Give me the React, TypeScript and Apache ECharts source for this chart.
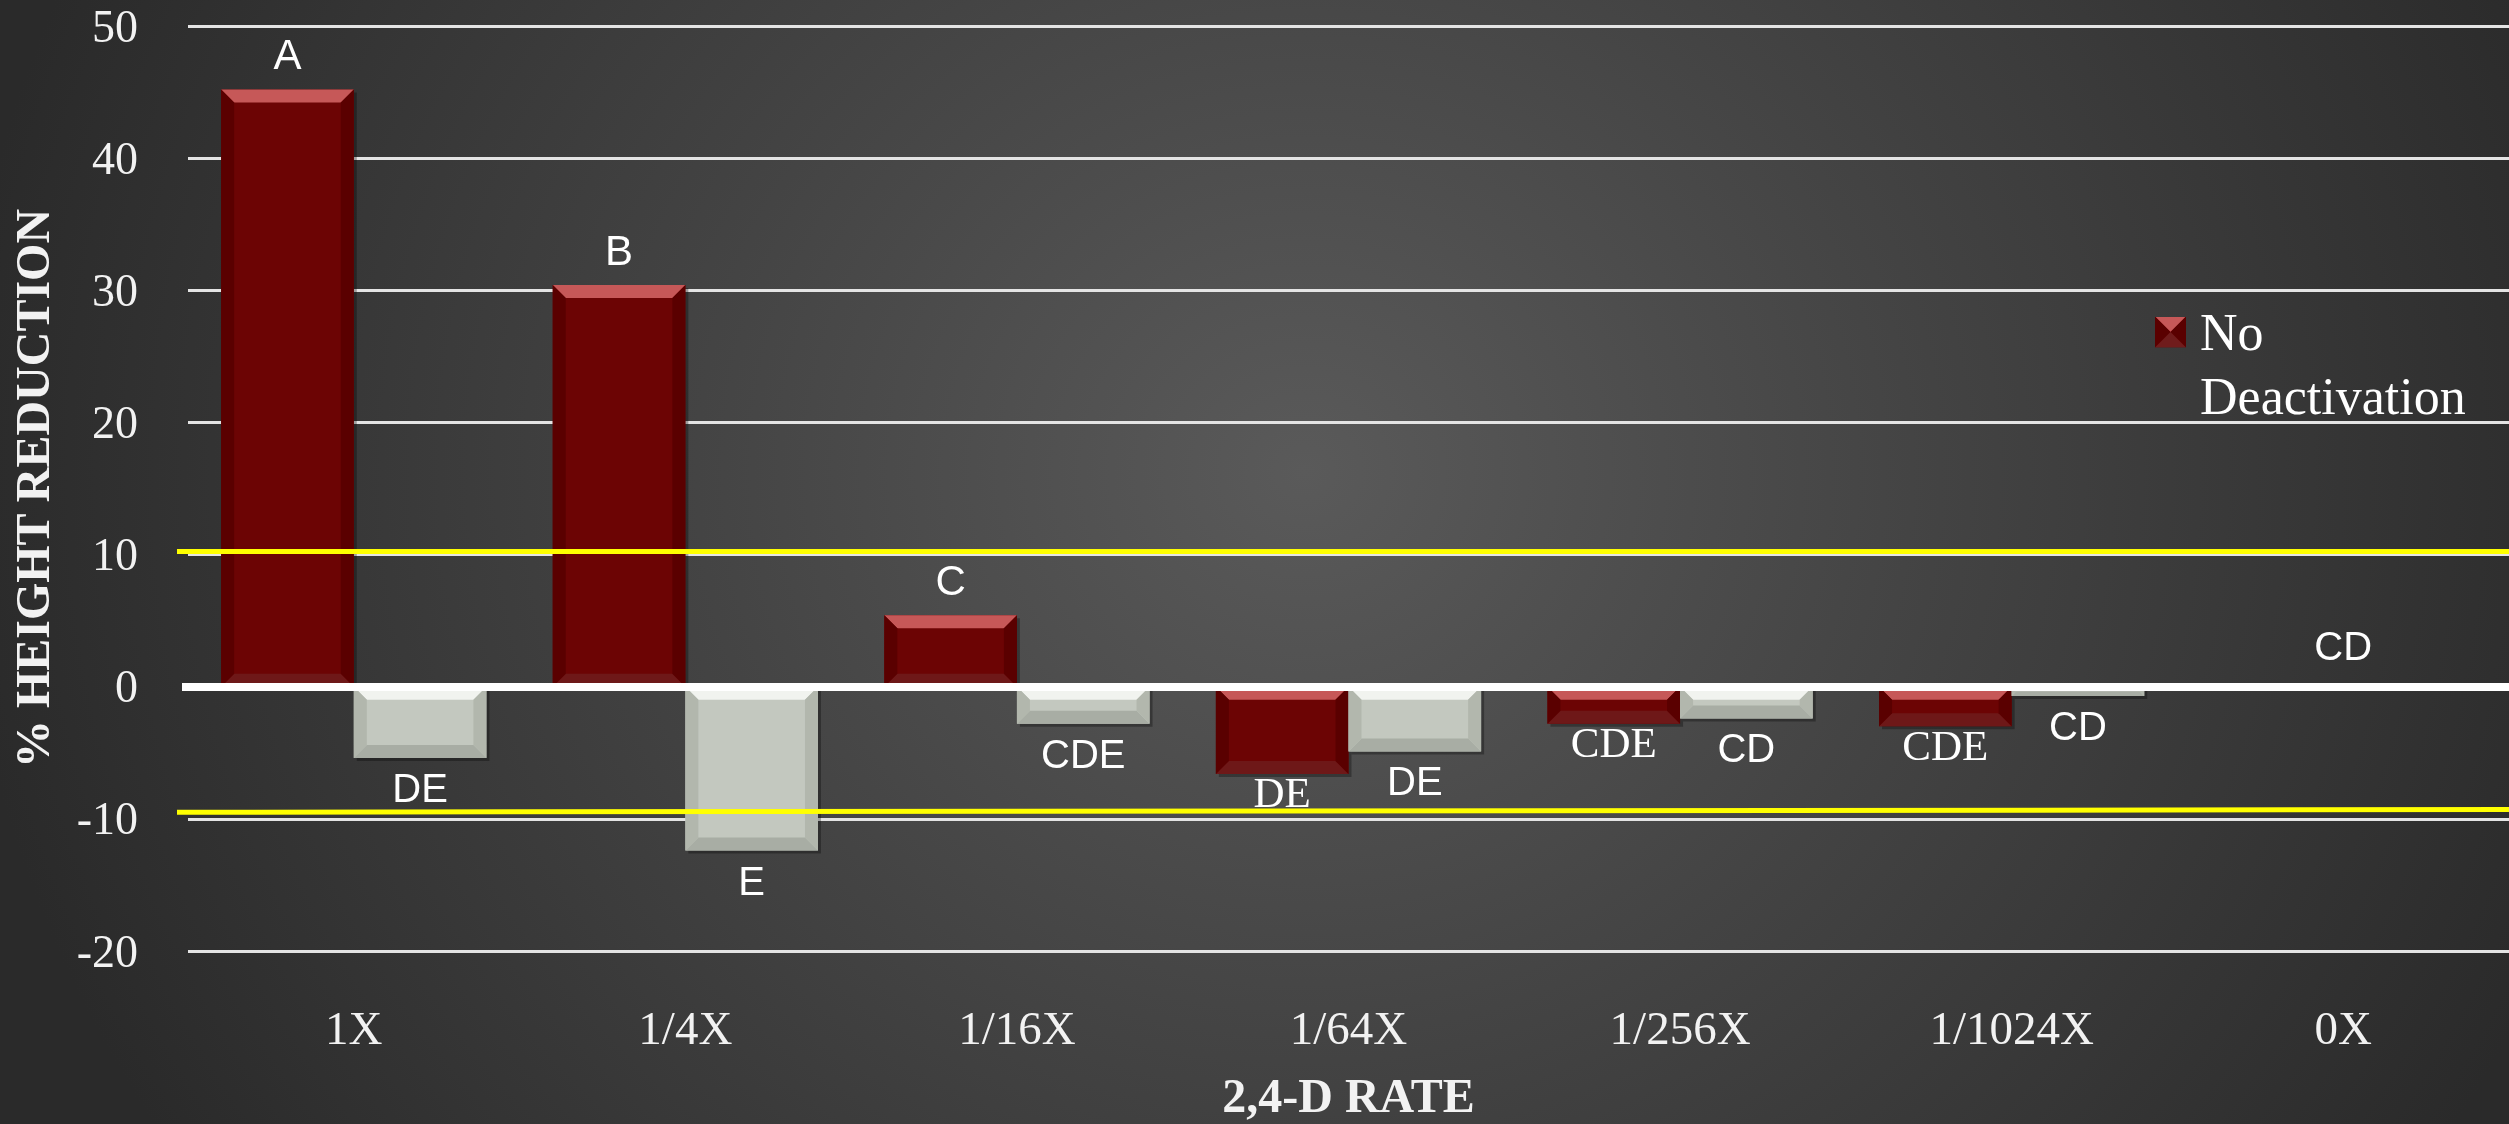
import React, { useEffect, useRef } from 'react';
import * as echarts from 'echarts';

// ---- data ----
const categories = ['1X', '1/4X', '1/16X', '1/64X', '1/256X', '1/1024X', '0X'];
const noDeactivation = [45.2, 30.4, 5.4, -6.6, -2.8, -3.0, 0];
const deactivation = [-5.4, -12.4, -2.8, -4.9, -2.4, -0.7, 0];
const noDeactivationLetters = ['A', 'B', 'C', 'DE', 'CDE', 'CDE', ''];
const deactivationLetters = ['DE', 'E', 'CDE', 'DE', 'CD', 'CD', 'CD'];
const upperThreshold = [10.25, 10.25];
const lowerThreshold = [-9.5, -9.3];
const yMin = -20;
const yMax = 50;
const yStep = 10;

const SERIF = '"Liberation Serif", "Times New Roman", serif';
const SANS = '"Liberation Sans", Arial, sans-serif';

const RED = { main: '#6c0404', top: '#c65858', side: '#5a0000', bottom: '#6e1818' };
const GREY = { main: '#c3c8bf', top: '#f1f3ef', side: '#b2b7ad', bottom: '#a8ada4' };

const legendIconSvg =
  "<svg xmlns='http://www.w3.org/2000/svg' width='31' height='31'>" +
  "<rect width='31' height='31' fill='#6c0404'/>" +
  "<polygon points='0,0 31,0 15.5,15.5' fill='#c65858'/>" +
  "<polygon points='0,0 15.5,15.5 0,31' fill='#5a0000'/>" +
  "<polygon points='31,0 15.5,15.5 31,31' fill='#5a0000'/>" +
  "<polygon points='0,31 15.5,15.5 31,31' fill='#701c1c'/>" +
  '</svg>';
const legendIcon = 'image://data:image/svg+xml;charset=utf-8,' + encodeURIComponent(legendIconSvg);

function makeRenderer(side: 'left' | 'right', pal: any, letters: string[], isRed: boolean) {
  return (params: any, api: any) => {
    const i = params.dataIndex;
    const ci = api.value(0) as number;
    const v = api.value(1) as number;
    const base = api.coord([ci, 0]);
    const end = api.coord([ci, v]);
    const band = api.size([1, 0])[0];
    const bw = band * 0.4;
    const cx = base[0];
    const x0 = side === 'left' ? cx - bw : cx;
    const x1 = x0 + bw;
    const children: any[] = [];
    const label = letters[i];
    if (v === 0) {
      if (label) {
        children.push({
          type: 'text',
          z2: 50,
          style: {
            text: label, x: cx, y: base[1] - 41, align: 'center', verticalAlign: 'middle',
            fill: '#ffffff', font: `40px ${SANS}`,
          },
        });
      }
      return { type: 'group', children };
    }
    const yA = Math.min(base[1], end[1]);
    const yB = Math.max(base[1], end[1]);
    const h = yB - yA;
    const b = Math.min(13, h / 2, bw / 2);
    children.push({ type: 'rect', shape: { x: x0 + 3, y: yA + 3, width: bw, height: h }, style: { fill: 'rgba(0,0,0,0.3)' } });
    children.push({ type: 'rect', shape: { x: x0, y: yA, width: bw, height: h }, style: { fill: pal.main } });
    children.push({ type: 'polygon', shape: { points: [[x0, yA], [x1, yA], [x1 - b, yA + b], [x0 + b, yA + b]] }, style: { fill: pal.top } });
    children.push({ type: 'polygon', shape: { points: [[x0, yB], [x1, yB], [x1 - b, yB - b], [x0 + b, yB - b]] }, style: { fill: pal.bottom } });
    children.push({ type: 'polygon', shape: { points: [[x0, yA], [x0 + b, yA + b], [x0 + b, yB - b], [x0, yB]] }, style: { fill: pal.side } });
    children.push({ type: 'polygon', shape: { points: [[x1, yA], [x1 - b, yA + b], [x1 - b, yB - b], [x1, yB]] }, style: { fill: pal.side } });
    if (label) {
      let font: string;
      if (isRed) font = v > 0 ? `42px ${SANS}` : `43px ${SERIF}`;
      else font = `40px ${SANS}`;
      const below = isRed ? 19 : 30;
      children.push({
        type: 'text',
        z2: 50,
        style: {
          text: label, x: (x0 + x1) / 2, y: v > 0 ? yA - 35 : yB + below,
          align: 'center', verticalAlign: 'middle', fill: '#ffffff', font,
        },
      });
    }
    return { type: 'group', children };
  };
}

export default function App() {
  const ref = useRef<HTMLDivElement>(null);
  useEffect(() => {
    if (!ref.current) return;
    const chart = echarts.init(ref.current, undefined, { renderer: 'svg' });
    const redData = noDeactivation.map((v, i) => [i, v]);
    const greyData = deactivation.map((v, i) => [i, v]);
    chart.setOption({
      animation: false,
      backgroundColor: 'transparent',
      grid: { left: 182, top: 26, width: 2334, height: 936, containLabel: false },
      legend: {
        data: [{ name: 'No Deactivation', icon: legendIcon }],
        left: 2155,
        top: 236,
        padding: 0,
        itemWidth: 31,
        itemHeight: 31,
        selectedMode: false,
        formatter: () => '\nNo\nDeactivation',
        textStyle: {
          color: '#ffffff', fontFamily: SERIF, fontSize: 52, lineHeight: 64,
          padding: [0, 0, 0, 9],
        },
      },
      xAxis: {
        type: 'category',
        data: categories,
        axisLine: { show: false },
        axisTick: { show: false },
        axisLabel: { color: '#f2f2f2', fontFamily: SERIF, fontSize: 47, margin: 53 },
        name: '2,4-D RATE',
        nameLocation: 'middle',
        nameGap: 120,
        nameTextStyle: { color: '#f2f2f2', fontFamily: SERIF, fontSize: 48, fontWeight: 'bold' },
        splitLine: { show: false },
      },
      yAxis: {
        type: 'value',
        min: yMin,
        max: yMax,
        interval: yStep,
        axisLine: { show: false },
        axisTick: { show: false },
        axisLabel: { color: '#f2f2f2', fontFamily: SERIF, fontSize: 46, margin: 50, lineHeight: 40 },
        splitLine: { show: true, lineStyle: { color: '#e4e4e4', width: 3 } },
        name: '% HEIGHT REDUCTION',
        nameLocation: 'middle',
        nameGap: 132,
        nameTextStyle: { color: '#f2f2f2', fontFamily: SERIF, fontSize: 48, fontWeight: 'bold' },
      },
      series: [
        {
          name: 'No Deactivation',
          type: 'custom',
          itemStyle: { color: RED.main },
          encode: { x: 0, y: 1 },
          data: redData,
          renderItem: makeRenderer('left', RED, noDeactivationLetters, true),
          z: 2,
        },
        {
          name: 'Deactivation',
          type: 'custom',
          itemStyle: { color: GREY.main },
          encode: { x: 0, y: 1 },
          data: greyData,
          renderItem: makeRenderer('right', GREY, deactivationLetters, false),
          z: 2,
        },
        {
          name: 'reference lines',
          type: 'line',
          data: [],
          z: 5,
          markLine: {
            silent: true,
            symbol: ['none', 'none'],
            label: { show: false },
            animation: false,
            data: [
              [
                { yAxis: 0, x: 182, lineStyle: { color: '#ffffff', width: 8, type: 'solid' } },
                { yAxis: 0, x: 2509 },
              ],
              [
                { xAxis: 0, yAxis: upperThreshold[0], x: 177, lineStyle: { color: '#ffff00', width: 5, type: 'solid' } },
                { xAxis: 6, yAxis: upperThreshold[1], x: 2509 },
              ],
              [
                { xAxis: 0, yAxis: lowerThreshold[0], x: 177, lineStyle: { color: '#ffff00', width: 5, type: 'solid' } },
                { xAxis: 6, yAxis: lowerThreshold[1], x: 2509 },
              ],
            ],
          },
        },
      ],
    });
    return () => chart.dispose();
  }, []);
  return (
    <div
      ref={ref}
      style={{
        position: 'fixed',
        left: 0,
        top: 0,
        width: 2509,
        height: 1124,
        background: 'radial-gradient(ellipse 1350px 1250px at 52% 42%, #5a5a5a 0%, #444444 45%, #2a2a2a 100%)',
      }}
    />
  );
}
